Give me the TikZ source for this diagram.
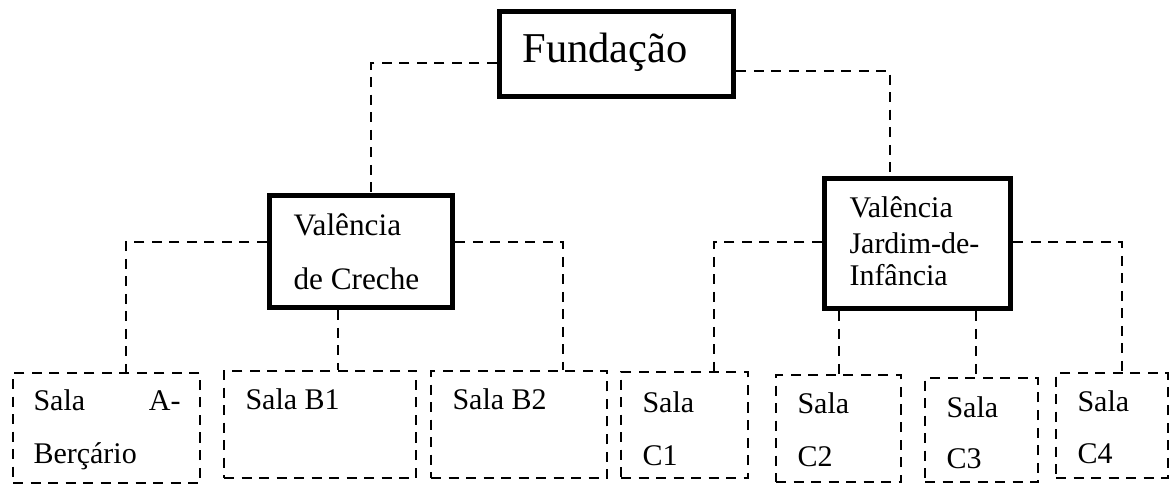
\documentclass[tikz,border=0pt]{standalone}
\usepackage{fontspec}
\setmainfont{Liberation Serif}
\usetikzlibrary{fit}
\begin{document}
\begin{tikzpicture}[x=0.4pt,y=-0.4pt,
  thickbox/.style={draw=black,line width=2.2pt,inner sep=0pt,rectangle},
  dashbox/.style={draw=black,line width=0.95pt,dash pattern=on 4pt off 3pt,inner sep=0pt,rectangle},
  conn/.style={draw=black,line width=0.95pt,dash pattern=on 4pt off 3pt},
  txt/.style={anchor=base west,inner sep=0pt,font=\fontsize{12}{14}\selectfont},
  bigtxt/.style={anchor=base west,inner sep=0pt,font=\fontsize{17}{20}\selectfont}]
\useasboundingbox (0,0) rectangle (1171,485);
% main boxes
\node[thickbox,fit={(499.5,11.5) (733.5,96.5)}] (f) {};
\node[thickbox,fit={(269.5,195.5) (452.5,307.5)}] (vc) {};
\node[thickbox,fit={(824.5,178.5) (1010.5,308.5)}] (vj) {};
% room boxes
\node[dashbox,fit={(13,373) (200,483)}] (sa) {};
\node[dashbox,fit={(224,371) (416,478)}] (sb1) {};
\node[dashbox,fit={(431,371) (607,478)}] (sb2) {};
\node[dashbox,fit={(621,372) (748,478)}] (sc1) {};
\node[dashbox,fit={(776,375) (901,482)}] (sc2) {};
\node[dashbox,fit={(925,378) (1038,482)}] (sc3) {};
\node[dashbox,fit={(1056,373) (1168,478)}] (sc4) {};
% texts
\node[bigtxt] (tf) at (522,63) {Fundação};
\node[txt,font=\fontsize{12.5}{14}\selectfont] (tvc1) at (293,235) {Valência};
\node[txt,font=\fontsize{12.5}{14}\selectfont] (tvc2) at (293,289) {de Creche};
\node[txt] (tvj1) at (849,218) {Valência};
\node[txt] (tvj2) at (849,254) {Jardim-de-};
\node[txt] (tvj3) at (849,286) {Infância};
\node[txt] (ta1) at (33,410) {\makebox[58.8pt][s]{Sala A-}};
\node[txt] (ta2) at (33,463) {Berçário};
\node[txt] (tb1) at (245,409) {Sala B1};
\node[txt] (tb2) at (452,409) {Sala B2};
\node[txt] (tc1a) at (642,412) {Sala};
\node[txt] (tc1b) at (642,465) {C1};
\node[txt] (tc2a) at (797,413) {Sala};
\node[txt] (tc2b) at (797,466) {C2};
\node[txt] (tc3a) at (946,417) {Sala};
\node[txt] (tc3b) at (946,468) {C3};
\node[txt] (tc4a) at (1077,411) {Sala};
\node[txt] (tc4b) at (1077,463) {C4};
% bend coordinates
\coordinate (k1) at (371,63);
\coordinate (k2) at (890,71);
\coordinate (k3) at (126,242);
\coordinate (k4) at (563,242);
\coordinate (k5) at (338,0);
\coordinate (k6) at (714,242);
\coordinate (k7) at (1122,242);
\coordinate (k8) at (839,0);
\coordinate (k9) at (976,0);
% connectors
\draw[conn] (f.west |- k1) -| (vc.north -| k1);
\draw[conn] (f.east |- k2) -| (vj.north -| k2);
\draw[conn] (vc.west |- k3) -| (sa.north -| k3);
\draw[conn] (vc.east |- k4) -| (sb2.north -| k4);
\draw[conn] (vc.south -| k5) -- (sb1.north -| k5);
\draw[conn] (vj.west |- k6) -| (sc1.north -| k6);
\draw[conn] (vj.east |- k7) -| (sc4.north -| k7);
\draw[conn] (vj.south -| k8) -- (sc2.north -| k8);
\draw[conn] (vj.south -| k9) -- (sc3.north -| k9);
\end{tikzpicture}
\end{document}
